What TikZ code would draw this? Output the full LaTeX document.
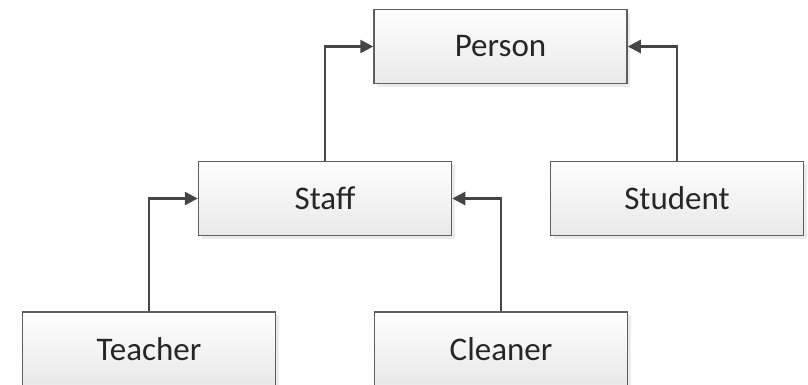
\documentclass[tikz,border=0pt]{standalone}
\usepackage{fontspec}
\setmainfont{Carlito}
\usetikzlibrary{arrows.meta,shadows}

\definecolor{boxline}{HTML}{5E5E5E}
\definecolor{linkline}{HTML}{454545}
\definecolor{boxtext}{HTML}{262626}

\tikzset{
  classbox/.style={draw=boxline, line width=1.5pt, top color=white, bottom color=black!9,
    minimum width=253pt, minimum height=74pt, inner sep=0pt,
    text=boxtext, font=\fontsize{33}{38}\selectfont,
    drop shadow={shadow xshift=3pt, shadow yshift=-3pt, fill=black, opacity=0.08}},
  inherits/.style={draw=linkline, line width=2.5pt,
    -{Triangle[length=13pt,width=13pt]}}
}

\begin{document}
\begin{tikzpicture}[x=1pt,y=-1pt]
\useasboundingbox (0,0) rectangle (808,384);
% classes
\node[classbox] (person)  at (500.5,46.5) {Person};
\node[classbox] (staff)   at (325,198.5)  {Staff};
\node[classbox] (student) at (677,198.5)  {Student};
\node[classbox] (teacher) at (149,349)    {Teacher};
\node[classbox] (cleaner) at (501,349)    {Cleaner};
% inheritance links
\draw[inherits] (staff.north) |- (person.west);
\draw[inherits] (student.north) |- (person.east);
\draw[inherits] (teacher.north) |- (staff.west);
\draw[inherits] (cleaner.north) |- (staff.east);
\end{tikzpicture}
\end{document}
